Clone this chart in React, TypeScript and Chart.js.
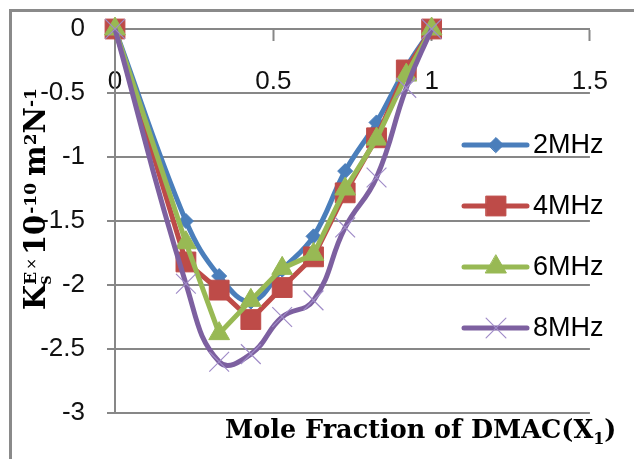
import { useEffect, useRef } from 'react';
import { Chart, registerables } from 'chart.js';
import { drawPoint } from 'chart.js/helpers';

Chart.register(...registerables);

// Mole fraction of DMAC (x1)
const moleFraction = [0, 0.224, 0.329, 0.429, 0.528, 0.627, 0.727, 0.826, 0.92, 1];

// Excess isentropic compressibility K_S^E (×10^-10 m^2 N^-1) per frequency
const ks2MHz = [0, -1.5, -1.93, -2.13, -1.88, -1.62, -1.11, -0.73, -0.3, 0];
const ks4MHz = [0, -1.82, -2.04, -2.27, -2.02, -1.78, -1.28, -0.85, -0.32, 0];
const ks6MHz = [0, -1.67, -2.38, -2.12, -1.87, -1.76, -1.25, -0.86, -0.36, 0];
const ks8MHz = [0, -1.99, -2.6, -2.54, -2.25, -2.12, -1.55, -1.16, -0.46, 0];

const seriesNames = ['2MHz', '4MHz', '6MHz', '8MHz'];
const seriesValues = [ks2MHz, ks4MHz, ks6MHz, ks8MHz];

const xMin = 0;
const xMax = 1.5;
const xStep = 0.5;
const yMin = -3;
const yMax = 0;
const yStep = 0.5;

// Per-series look
const lineColors = ['#4A7EBB', '#BE4B48', '#98B954', '#7D60A0'];
const markerColors = ['#4A7EBB', '#BE4B48', '#98B954', '#A08CC8'];
const markerStyles = ['rectRot', 'rect', 'triangle', 'crossRot'];
const markerRadii = [7.5, 14, 12, 14];
const markerBorder = [1, 1, 1, 1.2];
const curveTension = [0.4, 0, 0, 0.45];

const GRID = '#878787';
const SERIF = '"DejaVu Serif", "Liberation Serif", serif';
const SANS = '"Liberation Sans", Arial, sans-serif';

type Run = { text: string; font: string; rise?: number; gap?: number; hold?: boolean };

function drawRuns(ctx: CanvasRenderingContext2D, runs: Run[], x0: number, y0: number) {
  let x = x0;
  let held = 0;
  for (const r of runs) {
    x += r.gap || 0;
    ctx.font = r.font;
    const w = ctx.measureText(r.text).width;
    ctx.fillText(r.text, x, y0 - (r.rise || 0));
    if (r.hold) {
      held = Math.max(held, w);
      continue;
    }
    x += Math.max(w, held);
    held = 0;
  }
  return x - x0;
}

const yTitleRuns: Run[] = [
  { text: 'K', font: `bold 29px ${SERIF}` },
  { text: 'E', font: `bold 17px ${SERIF}`, rise: 9, hold: true },
  { text: 'S', font: `bold 13px ${SERIF}`, rise: -6 },
  { text: '×', font: `14px "DejaVu Sans", sans-serif`, rise: 9, gap: 2 },
  { text: '10', font: `bold 29px ${SERIF}`, gap: 3 },
  { text: '-10', font: `bold 17px ${SERIF}`, rise: 9, gap: 1 },
  { text: 'm', font: `bold 29px ${SERIF}`, gap: 7 },
  { text: '2', font: `bold 17px ${SERIF}`, rise: 9 },
  { text: 'N', font: `bold 29px ${SERIF}` },
  { text: '-1', font: `bold 17px ${SERIF}`, rise: 9 },
];

const xTitleRuns: Run[] = [
  { text: 'Mole Fraction of DMAC(X', font: `bold 25.5px ${SERIF}` },
  { text: '1', font: `bold 16px ${SERIF}`, rise: -6 },
  { text: ')', font: `bold 25.5px ${SERIF}` },
];

const decorPlugin = {
  id: 'decor',
  beforeDraw(chart: Chart) {
    const ctx = chart.ctx;
    ctx.save();
    ctx.fillStyle = '#ffffff';
    ctx.fillRect(0, 0, chart.width, chart.height);
    ctx.fillStyle = '#8a8a8a';
    ctx.fillRect(9, 9, chart.width - 9, 3);
    ctx.fillRect(9, 9, 3, chart.height - 9);
    ctx.restore();
  },
  afterDraw(chart: Chart) {
    const ctx = chart.ctx;
    ctx.save();
    ctx.fillStyle = '#000';
    ctx.textBaseline = 'alphabetic';
    ctx.textAlign = 'left';

    // axis titles
    drawRuns(ctx, xTitleRuns, 225, 438);
    ctx.save();
    ctx.translate(45, 310);
    ctx.rotate(-Math.PI / 2);
    drawRuns(ctx, yTitleRuns, 0, 0);
    ctx.restore();

    // legend
    seriesNames.forEach((name, i) => {
      const y = 145 + 61 * i;
      ctx.strokeStyle = lineColors[i];
      ctx.lineWidth = 5;
      ctx.lineCap = 'round';
      ctx.beginPath();
      ctx.moveTo(464, y);
      ctx.lineTo(527, y);
      ctx.stroke();
      ctx.fillStyle = markerColors[i];
      ctx.strokeStyle = markerColors[i];
      ctx.lineWidth = markerBorder[i];
      drawPoint(ctx, { pointStyle: markerStyles[i], radius: markerRadii[i], rotation: 0, borderWidth: markerBorder[i] } as any, 496, y);
      ctx.fillStyle = '#000';
      ctx.font = `27px ${SANS}`;
      ctx.textBaseline = 'middle';
      ctx.fillText(name, 533, y + 1);
    });
    ctx.restore();
  },
};

const plainNumber = (v: number | string) => String(Number(v));

export default function App() {
  const canvasRef = useRef<HTMLCanvasElement | null>(null);

  useEffect(() => {
    if (!canvasRef.current) return;
    const datasets = seriesNames.map((name, i) => ({
      label: name,
      data: moleFraction.map((x, k) => ({ x, y: seriesValues[i][k] })),
      borderColor: lineColors[i],
      backgroundColor: markerColors[i],
      borderWidth: 5,
      tension: curveTension[i],
      pointStyle: markerStyles[i],
      pointRadius: markerRadii[i],
      pointBorderWidth: markerBorder[i],
      pointBorderColor: markerColors[i],
      pointBackgroundColor: markerColors[i],
      order: seriesNames.length - i,
      clip: false as const,
    }));

    const chart = new Chart(canvasRef.current, {
      type: 'line',
      data: { datasets },
      options: {
        animation: false,
        responsive: false,
        devicePixelRatio: 1,
        layout: { padding: { left: 0, top: 29, right: 34, bottom: 46 } },
        plugins: {
          legend: { display: false },
          title: { display: false },
          tooltip: { enabled: false },
        },
        scales: {
          x: {
            type: 'linear',
            position: { y: 0 } as any,
            min: xMin,
            max: xMax,
            ticks: {
              stepSize: xStep,
              padding: 26,
              color: '#111',
              font: { family: SANS, size: 26 },
              callback: plainNumber,
            },
            grid: {
              drawOnChartArea: false,
              drawTicks: true,
              tickLength: 11,
              tickColor: GRID,
              tickWidth: 2,
            },
            border: { display: true, color: GRID, width: 2 },
          },
          y: {
            type: 'linear',
            position: 'left',
            min: yMin,
            max: yMax,
            afterFit: (scale: any) => {
              scale.width = 115;
              scale.paddingTop = 12;
              scale.paddingBottom = 12;
            },
            ticks: {
              stepSize: yStep,
              padding: 22,
              color: '#111',
              font: { family: SANS, size: 26 },
              callback: plainNumber,
            },
            grid: {
              color: GRID,
              lineWidth: 2,
              tickLength: 8,
              tickColor: GRID,
            },
            border: { display: true, color: GRID, width: 2 },
          },
        },
      },
      plugins: [decorPlugin],
    });

    return () => chart.destroy();
  }, []);

  return (
    <div style={{ position: 'fixed', left: 0, top: 0, width: 634, height: 459, background: '#fff' }}>
      <canvas ref={canvasRef} width={634} height={459} style={{ width: 634, height: 459, display: 'block' }} />
    </div>
  );
}
